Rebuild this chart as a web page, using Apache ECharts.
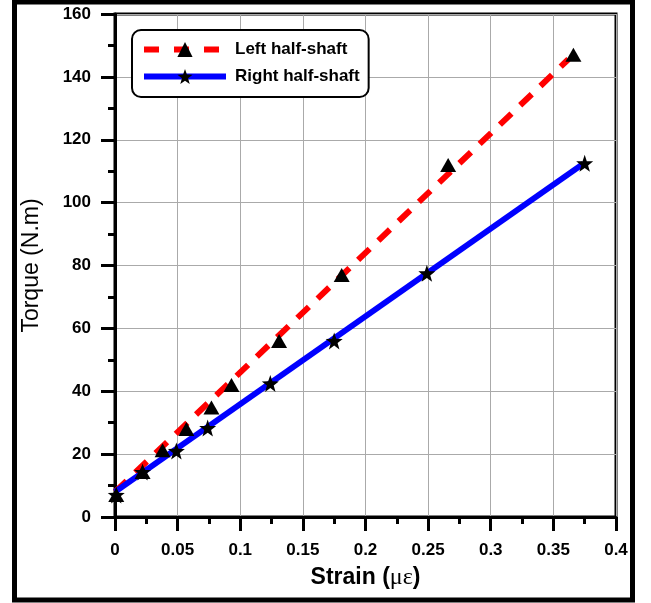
<!DOCTYPE html>
<html>
<head>
<meta charset="utf-8">
<script src="https://cdn.jsdelivr.net/npm/echarts@6/dist/echarts.min.js"></script>
<style>
  html, body { margin: 0; padding: 0; background: #fff; }
  #chart { width: 651px; height: 603px; }
</style>
</head>
<body>
<div id="chart"></div>
<script>
// measured points (strain, torque)
const leftPts = [[0.001, 7], [0.022, 14.3], [0.038, 21.2], [0.057, 28], [0.077, 34.8],
  [0.093, 42], [0.131, 56], [0.181, 77], [0.266, 112], [0.366, 147]];
const rightPts = [[0.001, 7], [0.022, 14.3], [0.049, 21], [0.074, 28.3], [0.124, 42.5],
  [0.175, 56], [0.249, 77.5], [0.375, 112.5]];
// fitted lines, end points
const leftFit = [[0, 8], [0.362, 145.6]];
const rightFit = [[0, 8], [0.374, 112.4]];

const legendNames = ['Left half-shaft', 'Right half-shaft'];
const font = 'Liberation Sans';
const star = 'path://M0,-10 L2.35,-3.24 L9.51,-3.09 L3.8,1.24 L5.88,8.09 L0,4 L-5.88,8.09 L-3.8,1.24 L-9.51,-3.09 L-2.35,-3.24 Z';

const chart = echarts.init(document.getElementById('chart'));
chart.setOption({
    animation: false,
    backgroundColor: '#fff',
    textStyle: { fontFamily: font, color: '#000' },
    graphic: [{
        type: 'rect',
        shape: { x: 14.5, y: 2, width: 618, height: 598 },
        style: { fill: 'none', stroke: '#000', lineWidth: 5 },
        silent: true
    }],
    grid: {
        left: 115, right: 35, top: 14, bottom: 86,
        show: true, borderColor: '#000', borderWidth: 3
    },
    legend: {
        data: [
            { name: legendNames[0], lineStyle: { color: '#ff0000', width: 6, type: [15, 15], opacity: 1 } },
            { name: legendNames[1], lineStyle: { color: '#0000ff', width: 6, type: 'solid', opacity: 1 } }
        ],
        orient: 'vertical',
        left: 132, top: 30,
        itemWidth: 82, itemHeight: 19, itemGap: 10,
        padding: [11, 9, 12, 9],
        borderColor: '#000', borderWidth: 2, borderRadius: 9,
        backgroundColor: '#fff',
        textStyle: { fontFamily: font, fontSize: 17, fontWeight: 'bold', color: '#000', padding: [0, 0, 0, 4] }
    },
    xAxis: {
        type: 'value', min: 0, max: 0.4, interval: 0.05,
        name: '{a|Strain (}{b|με}{a|)}',
        nameLocation: 'middle', nameGap: 49,
        nameTextStyle: {
            verticalAlign: 'top',
            rich: {
                a: { fontFamily: font, fontSize: 23, fontWeight: 'bold', color: '#000' },
                b: { fontFamily: 'Liberation Serif', fontSize: 24, color: '#000' }
            }
        },
        axisLine: { lineStyle: { color: '#000', width: 3 } },
        axisTick: { length: 14, lineStyle: { width: 3, color: '#000' } },
        minorTick: { show: true, splitNumber: 2, length: 7, lineStyle: { width: 3, color: '#000' } },
        splitLine: { lineStyle: { color: '#aaa', width: 1 } },
        axisLabel: {
            margin: 25, fontSize: 17, fontWeight: 'bold', color: '#000',
            formatter: v => String(+v.toFixed(2))
        }
    },
    yAxis: {
        type: 'value', min: 0, max: 160, interval: 20,
        name: 'Torque (N.m)',
        nameLocation: 'middle', nameGap: 72,
        nameTextStyle: { fontFamily: font, fontSize: 23, color: '#000' },
        axisLine: { lineStyle: { color: '#000', width: 3 } },
        axisTick: { length: 14, lineStyle: { width: 3, color: '#000' } },
        minorTick: { show: true, splitNumber: 2, length: 7, lineStyle: { width: 3, color: '#000' } },
        splitLine: { lineStyle: { color: '#aaa', width: 1 } },
        axisLabel: { margin: 24, fontSize: 17, fontWeight: 'bold', color: '#000' }
    },
    series: [
        {
            name: 'Left fit', type: 'line', data: leftFit, symbol: 'none', z: 2,
            lineStyle: { color: '#ff0000', width: 6, type: [16, 12] }
        },
        {
            name: 'Right fit', type: 'line', data: rightFit, symbol: 'none', z: 3,
            lineStyle: { color: '#0000ff', width: 6 }
        },
        {
            name: legendNames[0], type: 'line', data: leftPts, z: 5,
            symbol: 'triangle', symbolSize: [16, 14], showAllSymbol: true,
            itemStyle: { color: '#000' },
            lineStyle: { opacity: 0 }
        },
        {
            name: legendNames[1], type: 'line', data: rightPts, z: 6,
            symbol: star, symbolSize: 17, showAllSymbol: true,
            itemStyle: { color: '#000' },
            lineStyle: { opacity: 0 }
        }
    ]
});
</script>
</body>
</html>
